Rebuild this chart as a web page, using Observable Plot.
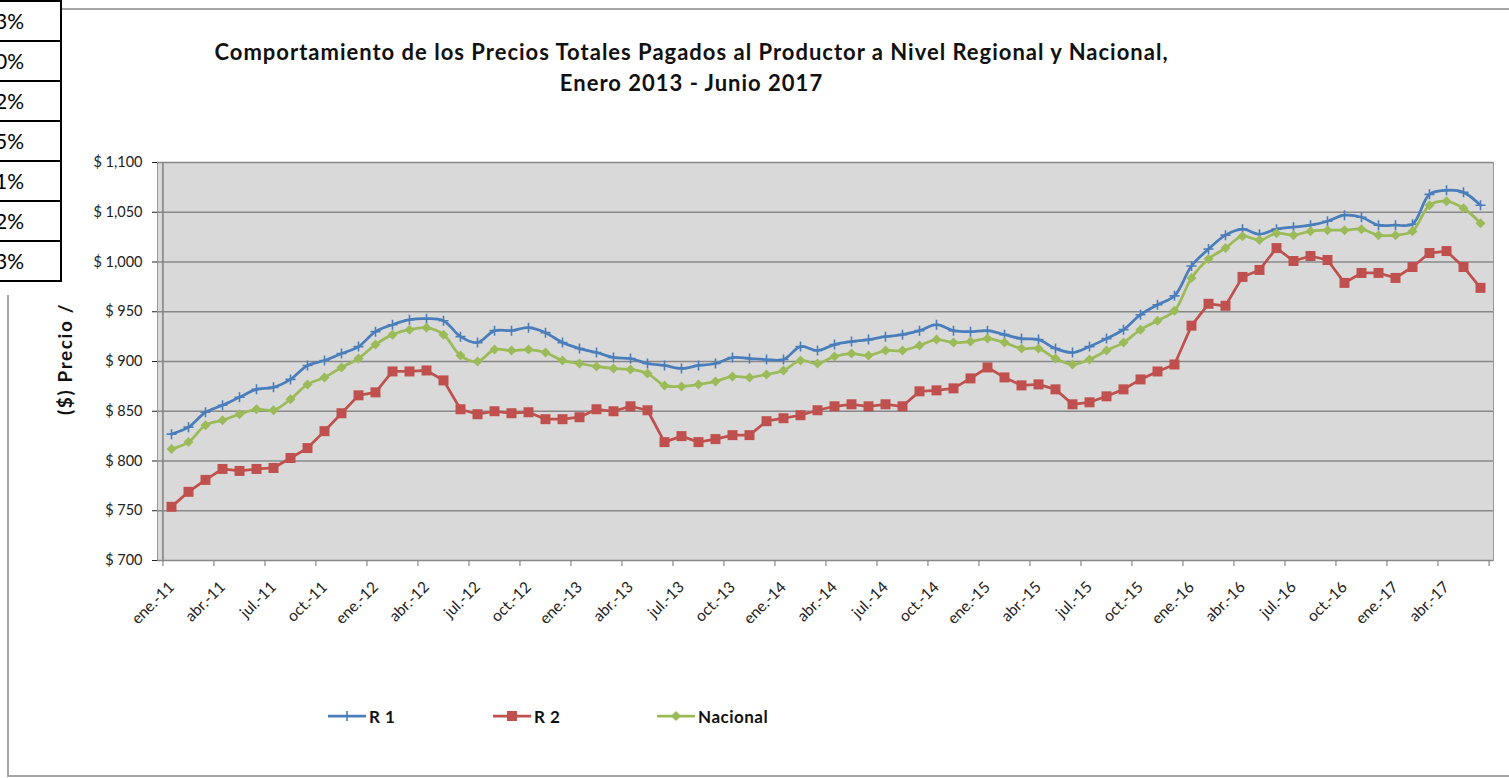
<!DOCTYPE html>
<html>
<head>
<meta charset="utf-8">
<script src="https://cdn.jsdelivr.net/npm/d3@7"></script>
<script src="https://cdn.jsdelivr.net/npm/@observablehq/plot@0.6"></script>
<style>
  body { margin: 0; background: #fff; font-family: Lato, "Open Sans", sans-serif; }
  #wrap { position: relative; width: 1509px; height: 778px; overflow: hidden; background: #fff; }
  .hline { position: absolute; height: 0; border-top: 2px solid #a6a6a6; }
  .vline { position: absolute; width: 0; border-left: 2px solid #a6a6a6; }
  #title { position: absolute; left: 0; width: 1383px; top: 36px; text-align: center;
           font-weight: bold; font-size: 22px; letter-spacing: 1px; line-height: 31px; color: #111; white-space: nowrap; }
  #chart { position: absolute; left: 0; top: 140px; }
  #chart [aria-label^="x-axis"] text { font-size: 15.5px; }
  #chart [aria-label^="y-axis"] text { font-size: 14.5px; }
  #tbl { position: absolute; left: -60px; top: 0; width: 120px; border-top: 2px solid #000; border-right: 2px solid #000; background: #fff; }
  #tbl div { position: relative; height: 38px; border-bottom: 2px solid #000; }
  #tbl span { position: absolute; left: 55px; top: 6px; font-size: 21px; color: #000; }
  #ylab { position: absolute; left: 54px; top: 415px; transform-origin: 0 0; transform: rotate(-90deg);
          font-weight: bold; font-size: 19px; letter-spacing: 1.6px; line-height: 22px; white-space: nowrap; color: #111; }
  .leg { position: absolute; top: 705px; height: 22px; display: flex; align-items: center; font-weight: bold; font-size: 17px; letter-spacing: 0.5px; color: #111; }
  .leg svg { margin-right: 3px; }
</style>
</head>
<body>
<div id="wrap">
  <div class="hline" style="left:62px; top:8px; width:1447px;"></div>
  <div class="vline" style="left:7px; top:295px; height:482px;"></div>
  <div class="hline" style="left:7px; top:775px; width:1502px;"></div>
  <div id="tbl"></div>
  <div id="title">Comportamiento de los Precios Totales Pagados al Productor a Nivel Regional y Nacional,<br>Enero 2013 - Junio 2017</div>
  <div id="ylab">($) Precio /</div>
  <div id="chart"></div>
  <div id="legend"></div>
</div>
<script>
// ---- Data ----
const months = [
  "ene.-11","feb.-11","mar.-11","abr.-11","may.-11","jun.-11","jul.-11","ago.-11","sep.-11","oct.-11","nov.-11","dic.-11",
  "ene.-12","feb.-12","mar.-12","abr.-12","may.-12","jun.-12","jul.-12","ago.-12","sep.-12","oct.-12","nov.-12","dic.-12",
  "ene.-13","feb.-13","mar.-13","abr.-13","may.-13","jun.-13","jul.-13","ago.-13","sep.-13","oct.-13","nov.-13","dic.-13",
  "ene.-14","feb.-14","mar.-14","abr.-14","may.-14","jun.-14","jul.-14","ago.-14","sep.-14","oct.-14","nov.-14","dic.-14",
  "ene.-15","feb.-15","mar.-15","abr.-15","may.-15","jun.-15","jul.-15","ago.-15","sep.-15","oct.-15","nov.-15","dic.-15",
  "ene.-16","feb.-16","mar.-16","abr.-16","may.-16","jun.-16","jul.-16","ago.-16","sep.-16","oct.-16","nov.-16","dic.-16",
  "ene.-17","feb.-17","mar.-17","abr.-17","may.-17","jun.-17"
];
const tickLabels = [
  "ene.-11","abr.-11","jul.-11","oct.-11","ene.-12","abr.-12","jul.-12","oct.-12",
  "ene.-13","abr.-13","jul.-13","oct.-13","ene.-14","abr.-14","jul.-14","oct.-14",
  "ene.-15","abr.-15","jul.-15","oct.-15","ene.-16","abr.-16","jul.-16","oct.-16",
  "ene.-17","abr.-17"
];
const r1 = [
  827, 834, 849, 856, 864, 872, 874, 882, 896, 901, 908, 915,
  930, 937, 942, 943, 941, 925, 919, 931, 931, 934, 929, 919,
  913, 909, 904, 903, 898, 896, 893, 896, 898, 904, 903, 902,
  902, 915, 911, 917, 920, 922, 925, 927, 931, 937, 931, 930,
  931, 927, 923, 922, 913, 909, 915, 923, 932, 947, 957, 966,
  996, 1013, 1027, 1033, 1028, 1033, 1035, 1037, 1041, 1047, 1045, 1037,
  1037, 1038, 1068, 1072, 1070, 1057
];
const r2 = [
  754, 769, 781, 792, 790, 792, 793, 803, 813, 830, 848, 866,
  869, 890, 890, 891, 881, 852, 847, 850, 848, 849, 842, 842,
  844, 852, 850, 855, 851, 819, 825, 819, 822, 826, 826, 840,
  843, 846, 851, 855, 857, 855, 857, 855, 870, 871, 873, 883,
  894, 884, 876, 877, 872, 857, 859, 865, 872, 882, 890, 897,
  936, 958, 956, 985, 992, 1014, 1001, 1006, 1002, 979, 989, 989,
  984, 995, 1009, 1011, 995, 974
];
const nacional = [
  812, 819, 836, 841, 847, 852, 851, 862, 877, 884, 894, 903,
  917, 927, 932, 934, 927, 906, 900, 912, 911, 912, 909, 901,
  898, 895, 893, 892, 888, 876, 875, 877, 880, 885, 884, 887,
  891, 901, 898, 905, 908, 906, 911, 911, 916, 922, 919, 920,
  923, 919, 913, 913, 903, 897, 902, 911, 919, 932, 941, 951,
  984, 1003, 1014, 1026, 1022, 1029, 1027, 1031, 1032, 1032, 1033, 1027,
  1027, 1031, 1057, 1061, 1054, 1039
];
const seriesNames = ["R 1", "R 2", "Nacional"];
const seriesColors = ["#4a7ebb", "#c0504d", "#9bbb59"];
const yTicks = [700, 750, 800, 850, 900, 950, 1000, 1050, 1100];
const tableTexts = ["3%", "0%", "2%", "5%", "1%", "2%", "3%"];

// ---- custom symbols (Excel-like markers) ----
const plusSym = { draw(ctx, size) { const r = Math.sqrt(size / Math.PI); ctx.moveTo(-r, 0); ctx.lineTo(r, 0); ctx.moveTo(0, -r); ctx.lineTo(0, r); } };
const squareSym = { draw(ctx, size) { const r = Math.sqrt(size / Math.PI); ctx.rect(-r, -r, 2 * r, 2 * r); } };
const diamondSym = { draw(ctx, size) { const r = Math.sqrt(size / Math.PI); ctx.moveTo(0, -r); ctx.lineTo(r, 0); ctx.lineTo(0, r); ctx.lineTo(-r, 0); ctx.closePath(); } };

// ---- table fragment ----
const tbl = document.getElementById("tbl");
tableTexts.forEach(t => { const d = document.createElement("div"); const s = document.createElement("span"); s.textContent = t; d.appendChild(s); tbl.appendChild(d); });

// ---- chart ----
const valuesBySeries = [r1, r2, nacional];
const rows = seriesNames.map((s, k) => valuesBySeries[k].map((v, i) => ({ series: s, month: months[i], value: v })));
const W = 1509, H = 500, ML = 157, MR = 16, MT = 22, MB = 80;
const step = (W - ML - MR) / months.length;
const tickSet = new Set(tickLabels);

const chart = Plot.plot({
  width: W, height: H,
  marginLeft: ML, marginRight: MR, marginTop: MT, marginBottom: MB,
  style: { fontFamily: "Lato, 'Open Sans', sans-serif", fontSize: "14px", color: "#222", background: "transparent", overflow: "visible" },
  x: { type: "point", domain: months, padding: 0.5, label: null, tickSize: 0, tickPadding: 24, tickRotate: -45,
       tickFormat: d => tickSet.has(d) ? d : "" },
  y: { domain: [700, 1100], ticks: yTicks, tickSize: 5, tickPadding: 10, label: null,
       tickFormat: d => "$ " + d3.format(",")(d) },
  marks: [
    Plot.frame({ fill: "#d9d9d9", stroke: "#9a9a9a" }),
    Plot.ruleY(yTicks, { stroke: "#888888", strokeWidth: 1.4 }),
    Plot.ruleX(tickLabels, { x: d => d, y1: 700, y2: 700, insetBottom: -6, dx: -step / 2, stroke: "#888888", strokeWidth: 1.2 }),
    Plot.ruleX([months[months.length - 1]], { x: d => d, y1: 700, y2: 700, insetBottom: -6, dx: step / 2, stroke: "#888888", strokeWidth: 1.2 }),
    Plot.ruleX([months[0]], { x: d => d, dx: -step / 2, stroke: "#808080", strokeWidth: 1.5 }),
    // R 1
    Plot.line(rows[0], { x: "month", y: "value", stroke: seriesColors[0], strokeWidth: 2.75, curve: "catmull-rom" }),
    Plot.dot(rows[0], { x: "month", y: "value", symbol: plusSym, r: 5, stroke: seriesColors[0], strokeWidth: 1.6, fill: "none" }),
    // R 2
    Plot.line(rows[1], { x: "month", y: "value", stroke: seriesColors[1], strokeWidth: 2.75 }),
    Plot.dot(rows[1], { x: "month", y: "value", symbol: squareSym, r: 5, fill: seriesColors[1], stroke: "none" }),
    // Nacional
    Plot.line(rows[2], { x: "month", y: "value", stroke: seriesColors[2], strokeWidth: 2.75, curve: "catmull-rom" }),
    Plot.dot(rows[2], { x: "month", y: "value", symbol: diamondSym, r: 5, fill: seriesColors[2], stroke: "none" })
  ]
});
document.getElementById("chart").appendChild(chart);

// ---- legend ----
const legendPos = [328, 493, 657];
const legendSyms = ["plus", "square", "diamond"];
const legend = document.getElementById("legend");
seriesNames.forEach((name, k) => {
  const item = document.createElement("div");
  item.className = "leg";
  item.style.left = legendPos[k] + "px";
  const c = seriesColors[k];
  let marker = "";
  if (legendSyms[k] === "plus") marker = `<line x1="19" y1="6" x2="19" y2="16" stroke="${c}" stroke-width="1.6"/>`;
  if (legendSyms[k] === "square") marker = `<rect x="14" y="6" width="10" height="10" fill="${c}"/>`;
  if (legendSyms[k] === "diamond") marker = `<path d="M19,6 L24,11 L19,16 L14,11 Z" fill="${c}"/>`;
  item.innerHTML = `<svg width="38" height="22"><line x1="0" y1="11" x2="38" y2="11" stroke="${c}" stroke-width="2.75"/>${marker}</svg><span>${name}</span>`;
  legend.appendChild(item);
});
</script>
</body>
</html>
